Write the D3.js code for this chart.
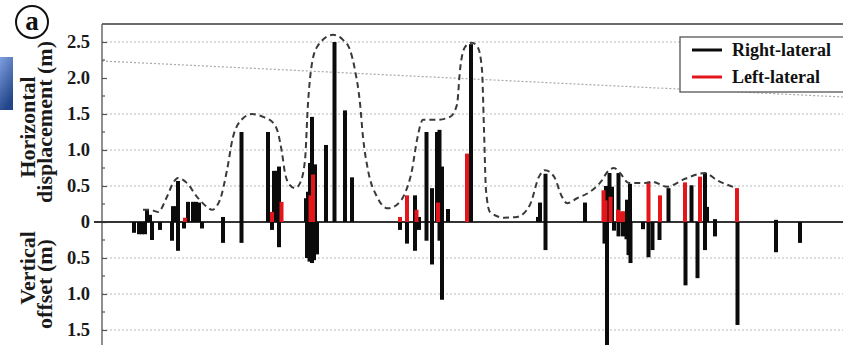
<!DOCTYPE html>
<html>
<head>
<meta charset="utf-8">
<script src="https://cdn.jsdelivr.net/npm/d3@7/dist/d3.min.js"></script>
<style>
  html, body { margin: 0; padding: 0; background: #fff; }
  svg { display: block; }
  text { font-family: "Liberation Serif", "DejaVu Serif", serif; font-weight: bold; }
</style>
</head>
<body>
<svg id="chart" width="843" height="345"></svg>
<script>
// distance along the rupture (km) and offsets (m)
const rightPos = [4.5, 4.8, 7.1, 7.4, 7.6, 8.6, 9.1, 9.4, 9.7, 12.1, 13.95, 16.6, 17.2, 17.4, 17.7, 20.4, 20.6, 20.8, 21.0, 21.3, 22.4, 23.25, 24.3, 25.0, 31.3, 31.7, 32.45, 33.0, 33.5, 33.75, 34.0, 34.6, 36.9, 43.6, 43.8, 44.35, 48.3, 50.4, 50.75, 51.0, 51.65, 52.5, 52.8, 56.65, 58.95, 60.3, 60.5, 61.3, 67.4];
const rightVal = [0.17, 0.10, 0.22, 0.22, 0.57, 0.28, 0.28, 0.28, 0.27, 0.07, 1.25, 1.25, 0.71, 0.71, 0.77, 0.33, 0.42, 0.82, 1.46, 0.80, 1.07, 2.5, 1.55, 0.62, 0.37, 0.07, 1.25, 0.47, 1.25, 1.28, 0.77, 0.18, 2.47, 0.07, 0.27, 0.67, 0.27, 0.50, 0.68, 0.49, 0.68, 0.31, 0.53, 0.47, 0.51, 0.68, 0.21, 0.04, 0.03];

const leftPos = [8.3, 17.0, 17.95, 20.85, 21.1, 29.8, 30.5, 31.45, 33.6, 36.5, 50.15, 50.35, 50.85, 51.6, 51.85, 52.1, 54.65, 55.8, 58.3, 59.8, 63.5];
const leftVal = [0.06, 0.14, 0.28, 0.37, 0.66, 0.07, 0.37, 0.17, 0.27, 0.95, 0.44, 0.30, 0.35, 0.17, 0.14, 0.15, 0.56, 0.37, 0.55, 0.63, 0.47];

const vertPos = [3.2, 3.7, 4.0, 4.3, 5.0, 5.8, 7.0, 7.6, 8.2, 10.0, 12.1, 13.95, 17.0, 17.7, 20.5, 20.75, 21.0, 21.2, 21.5, 29.8, 30.5, 31.3, 31.7, 32.45, 33.0, 33.75, 34.0, 44.35, 50.25, 50.5, 51.2, 51.65, 52.1, 52.45, 52.65, 52.85, 54.1, 54.65, 55.05, 55.75, 58.35, 59.55, 60.3, 61.3, 63.55, 67.4, 69.8];
const vertVal = [0.15, 0.17, 0.17, 0.17, 0.25, 0.11, 0.26, 0.40, 0.09, 0.09, 0.29, 0.29, 0.11, 0.35, 0.50, 0.55, 0.57, 0.53, 0.45, 0.11, 0.30, 0.40, 0.11, 0.26, 0.59, 0.26, 1.08, 0.39, 0.30, 1.75, 0.12, 0.20, 0.20, 0.24, 0.46, 0.57, 0.10, 0.49, 0.39, 0.25, 0.88, 0.78, 0.39, 0.20, 1.43, 0.42, 0.29];

// envelope of horizontal displacement (dashed)
const envPos = [4.1, 4.8, 5.6, 6.5, 7.1, 7.6, 8.5, 9.5, 10.5, 11.0, 11.8, 12.5, 13.1, 14.1, 15.0, 16.1, 17.1, 17.6, 18.0, 18.3, 18.8, 19.3, 19.8, 20.3, 20.6, 20.9, 21.5, 23.1, 24.1, 24.8, 25.3, 25.8, 26.1, 26.6, 27.5, 28.6, 29.5, 30.3, 31.0, 31.5, 32.1, 33.5, 34.8, 35.5, 35.8, 36.3, 37.0, 37.6, 38.0, 38.2, 38.4, 38.8, 40.2, 41.5, 42.8, 43.7, 44.3, 45.2, 46.0, 46.5, 47.5, 48.8, 50.0, 50.5, 51.2, 51.8, 52.7, 54.3, 55.0, 56.5, 58.3, 60.3, 61.5, 63.5];
const envVal = [0.17, 0.17, 0.14, 0.35, 0.54, 0.61, 0.54, 0.35, 0.21, 0.17, 0.31, 0.72, 1.18, 1.44, 1.50, 1.46, 1.38, 1.24, 0.96, 0.68, 0.51, 0.47, 0.54, 0.86, 1.65, 2.11, 2.43, 2.60, 2.53, 2.39, 2.11, 1.65, 1.18, 0.72, 0.35, 0.19, 0.24, 0.40, 0.72, 1.14, 1.42, 1.42, 1.46, 1.63, 2.11, 2.43, 2.49, 2.42, 2.11, 1.28, 0.44, 0.14, 0.06, 0.07, 0.24, 0.63, 0.72, 0.63, 0.35, 0.26, 0.33, 0.42, 0.58, 0.69, 0.75, 0.68, 0.54, 0.54, 0.56, 0.49, 0.60, 0.68, 0.58, 0.47];

const tickVals = [-1.5, -1.0, -0.5, 0, 0.5, 1.0, 1.5, 2.0, 2.5];
const gridVals = [-1.5, -1.0, -0.5, 0.5, 1.0, 1.5, 2.5];
const minorVals = [-1.25, -0.75, -0.25, 0.25, 0.75, 1.25, 1.75, 2.25];
const seriesNames = ['Right-lateral', 'Left-lateral'];

const W = 843, H = 345;
const plotLeft = 102, plotTop = 24;
const BLACK = '#0b0b0b', RED = '#e3161b';

const svg = d3.select('#chart');

const x = d3.scaleLinear().domain([0, 74.1]).range([plotLeft, W]);
const y = d3.scaleLinear().domain([-1.8, 2.5]).range([222 + 1.8 * 72, 42]);

// stray blue block at left edge
const grad = svg.append('defs').append('linearGradient')
  .attr('id', 'blue').attr('x1', 0).attr('y1', 0).attr('x2', 0.4).attr('y2', 1);
grad.append('stop').attr('offset', 0).attr('stop-color', '#7e9fe0');
grad.append('stop').attr('offset', 1).attr('stop-color', '#23468a');
svg.append('rect').attr('x', 0).attr('y', 57).attr('width', 13).attr('height', 53).attr('fill', 'url(#blue)');

// panel label
svg.append('circle').attr('cx', 32).attr('cy', 22).attr('r', 16)
  .attr('fill', 'none').attr('stroke', '#111').attr('stroke-width', 2);
svg.append('text').attr('x', 32).attr('y', 30).attr('text-anchor', 'middle')
  .style('font-size', '27px').attr('fill', '#111').text('a');

// gridlines
svg.append('g').selectAll('line').data(gridVals).enter().append('line')
  .attr('x1', plotLeft).attr('x2', W)
  .attr('y1', d => y(d)).attr('y2', d => y(d))
  .attr('stroke', '#b9b9b9').attr('stroke-width', 1.2).attr('stroke-dasharray', '2,2');

// slanted dotted line
svg.append('line').attr('x1', plotLeft).attr('y1', 61).attr('x2', W).attr('y2', 97)
  .attr('stroke', '#a8a8a8').attr('stroke-width', 1.2).attr('stroke-dasharray', '2,2');

// frame
svg.append('line').attr('x1', plotLeft).attr('x2', W).attr('y1', plotTop).attr('y2', plotTop)
  .attr('stroke', '#6a6a6a').attr('stroke-width', 2);
svg.append('line').attr('x1', plotLeft).attr('x2', plotLeft).attr('y1', plotTop).attr('y2', H)
  .attr('stroke', '#6a6a6a').attr('stroke-width', 1.5);

// y axis (vertical offsets shown as positive numbers)
const yAxis = d3.axisLeft(y)
  .tickValues(tickVals)
  .tickSizeInner(-5).tickSizeOuter(0).tickPadding(12)
  .tickFormat(d => d === 0 ? '0' : d3.format('.1f')(Math.abs(d)));
const ax = svg.append('g').attr('transform', `translate(${plotLeft},0)`).call(yAxis);
ax.select('.domain').remove();
ax.selectAll('.tick line').attr('stroke', '#555').attr('stroke-width', 1.2);
ax.selectAll('.tick text').style('font-size', '18.5px').attr('fill', '#1a1a1a')
  .style('font-family', '"Liberation Serif", serif');

svg.append('g').selectAll('line').data(minorVals).enter().append('line')
  .attr('x1', plotLeft).attr('x2', plotLeft + 3)
  .attr('y1', d => y(d)).attr('y2', d => y(d))
  .attr('stroke', '#555').attr('stroke-width', 1.2);

// zero line
svg.append('line').attr('x1', 94).attr('x2', W).attr('y1', y(0)).attr('y2', y(0))
  .attr('stroke', '#333').attr('stroke-width', 1.8);

// axis titles
const titles = [
  { t: 'Horizontal', x: 35, y: 127 },
  { t: 'displacement (m)', x: 52, y: 122 },
  { t: 'Vertical', x: 35, y: 268 },
  { t: 'offset (m)', x: 52, y: 284 }
];
svg.append('g').selectAll('text').data(titles).enter().append('text')
  .attr('transform', d => `translate(${d.x},${d.y}) rotate(-90)`)
  .attr('text-anchor', 'middle').style('font-size', '22px').attr('fill', '#1a1a1a')
  .text(d => d.t);

// bars
const bw = 4;
const vertData = vertPos.map((p, i) => ({ p, v: vertVal[i] }));
const rightData = rightPos.map((p, i) => ({ p, v: rightVal[i] }));
const leftData = leftPos.map((p, i) => ({ p, v: leftVal[i] }));

svg.append('g').selectAll('rect').data(vertData).enter().append('rect')
  .attr('x', d => x(d.p) - bw / 2).attr('width', bw)
  .attr('y', y(0)).attr('height', d => y(-d.v) - y(0))
  .attr('fill', BLACK);

svg.append('g').selectAll('rect').data(rightData).enter().append('rect')
  .attr('x', d => x(d.p) - bw / 2).attr('width', bw)
  .attr('y', d => y(d.v)).attr('height', d => y(0) - y(d.v))
  .attr('fill', BLACK);

svg.append('g').selectAll('rect').data(leftData).enter().append('rect')
  .attr('x', d => x(d.p) - bw / 2).attr('width', bw)
  .attr('y', d => y(d.v)).attr('height', d => y(0) - y(d.v))
  .attr('fill', RED);

// dashed envelope
const env = envPos.map((p, i) => [p, envVal[i]]);
svg.append('path').datum(env)
  .attr('d', d3.line().x(d => x(d[0])).y(d => y(d[1])).curve(d3.curveMonotoneX))
  .attr('fill', 'none').attr('stroke', '#3a3a3a').attr('stroke-width', 2)
  .attr('stroke-dasharray', '6,4');

// legend
const lg = svg.append('g').attr('transform', 'translate(680,37)');
lg.append('rect').attr('width', 175).attr('height', 55)
  .attr('fill', '#fff').attr('stroke', '#555').attr('stroke-width', 1.3);
const items = lg.selectAll('g.item').data(seriesNames).enter().append('g')
  .attr('class', 'item')
  .attr('transform', (d, i) => `translate(0, ${13 + i * 27})`);
items.append('line').attr('x1', 12).attr('x2', 42).attr('y1', 0).attr('y2', 0)
  .attr('stroke', (d, i) => i === 0 ? BLACK : RED).attr('stroke-width', 3);
items.append('text').attr('x', 52).attr('y', 6)
  .style('font-size', '18px').attr('fill', '#111').text(d => d);
</script>
</body>
</html>
